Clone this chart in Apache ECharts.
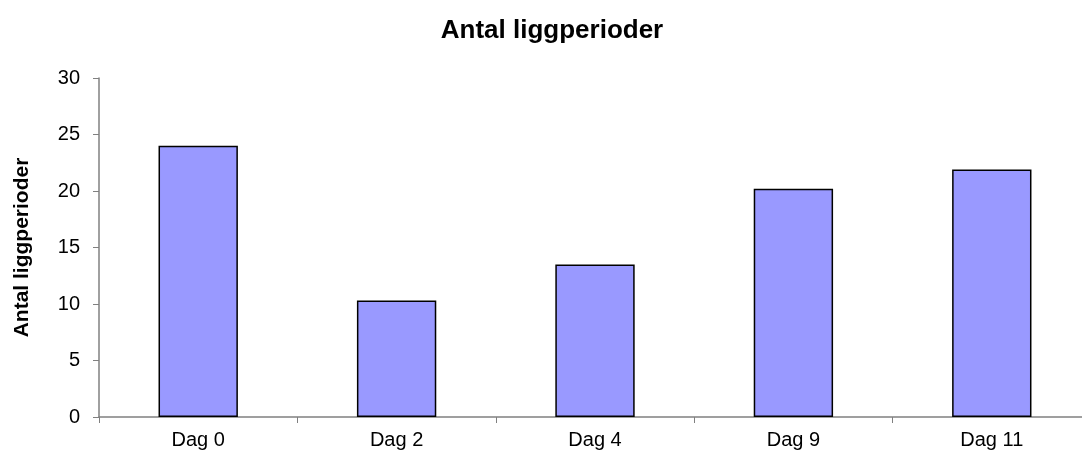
<!DOCTYPE html>
<html>
<head>
<meta charset="utf-8">
<script src="https://cdn.jsdelivr.net/npm/echarts@6/dist/echarts.min.js"></script>
<style>
  html, body { margin: 0; padding: 0; background: #fff; }
  #chart { width: 1082px; height: 464px; }
</style>
</head>
<body>
<div id="chart"></div>
<script>
  // data
  const categories = ['Dag 0', 'Dag 2', 'Dag 4', 'Dag 9', 'Dag 11'];
  const values = [24, 10.3, 13.5, 20.2, 21.9];
  const yTicks = [0, 5, 10, 15, 20, 25, 30];

  const font = 'Liberation Sans, Arial, sans-serif';

  const option = {
    animation: false,
    backgroundColor: '#fff',
    title: {
      text: 'Antal liggperioder',
      left: 547,
      top: 13,
      textAlign: 'center',
      textStyle: { fontFamily: font, fontSize: 26, fontWeight: 'bold', color: '#000' }
    },
    grid: {
      left: 99,
      right: -9,
      top: 78,
      bottom: 47,
      containLabel: false,
      outerBoundsMode: 'none'
    },
    xAxis: {
      type: 'category',
      data: categories,
      boundaryGap: true,
      axisLine: { lineStyle: { color: '#808080', width: 1.5 } },
      axisTick: { show: true, alignWithLabel: false, length: 6, lineStyle: { color: '#808080' } },
      axisLabel: { fontFamily: font, fontSize: 20, color: '#000', margin: 13 }
    },
    yAxis: {
      type: 'value',
      min: yTicks[0],
      max: yTicks[yTicks.length - 1],
      interval: yTicks[1] - yTicks[0],
      name: 'Antal liggperioder',
      nameLocation: 'middle',
      nameRotate: 90,
      nameGap: 66,
      nameTextStyle: { fontFamily: font, fontSize: 21, fontWeight: 'bold', color: '#000' },
      axisLine: { show: true, lineStyle: { color: '#808080', width: 1.5 } },
      axisTick: { show: true, length: 6, lineStyle: { color: '#808080' } },
      axisLabel: { fontFamily: font, fontSize: 20, color: '#000', margin: 19 },
      splitLine: { show: false }
    },
    series: [{
      type: 'bar',
      data: values,
      barWidth: '40%',
      itemStyle: { color: '#9999ff', borderColor: '#000', borderWidth: 1.5 }
    }]
  };

  echarts.init(document.getElementById('chart')).setOption(option);
</script>
</body>
</html>
